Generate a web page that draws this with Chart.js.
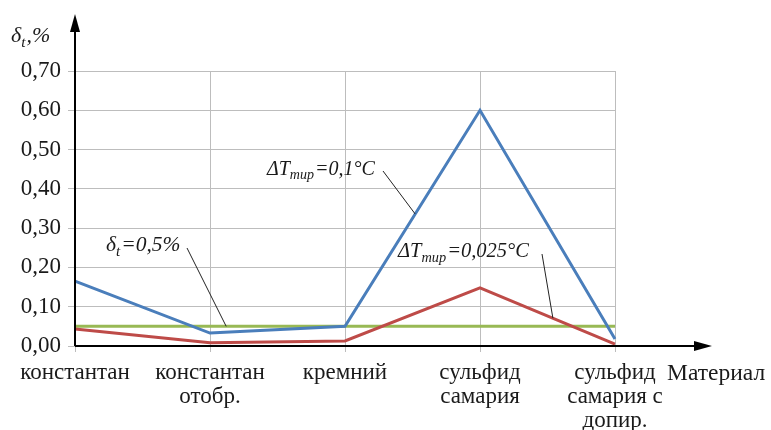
<!DOCTYPE html>
<html>
<head>
<meta charset="utf-8">
<script src="https://cdn.jsdelivr.net/npm/chart.js@4.4.0/dist/chart.umd.min.js"></script>
<style>
  body { margin: 0; background: #fff; }
  #wrap { width: 771px; height: 430px; position: relative; }
</style>
</head>
<body>
<div id="wrap"><canvas id="errChart"></canvas></div>
<script>
// материалы (подписи по оси X)
const materials = [
    ['константан'],
    ['константан', 'отобр.'],
    ['кремний'],
    ['сульфид', 'самария'],
    ['сульфид', 'самария с', 'допир.']
];
// погрешность, %, при ΔT = 0,1 °C
const errDT01 = [0.165, 0.033, 0.05, 0.60, 0.018];
// погрешность, %, при ΔT = 0,025 °C
const errDT0025 = [0.043, 0.008, 0.013, 0.148, 0.005];
// допустимый уровень δt = 0,5 %
const errLimit = [0.05, 0.05, 0.05, 0.05, 0.05];
const yMin = 0, yMax = 0.7, yStep = 0.1;

const SERIF = '"Liberation Serif", "Times New Roman", serif';
const INK = '#1a1a1a';

// text with subscripts: parts = [{t, sub}]
function drawRich(ctx, x, y, parts, size) {
    let cx = x;
    parts.forEach(p => {
        const s = p.sub ? size * 0.7 : size;
        ctx.font = 'italic ' + s + 'px ' + SERIF;
        ctx.fillText(p.t, cx, p.sub ? y + size * 0.22 : y);
        cx += ctx.measureText(p.t).width + (p.sub ? 1 : 0);
    });
}

function valueAt(series, idx) {
    const i = Math.floor(idx), f = idx - i;
    if (i >= series.length - 1) return series[series.length - 1];
    return series[i] + (series[i + 1] - series[i]) * f;
}

// подписи кривых с выносками
const notes = [
    { parts: [{t: 'ΔT'}, {t: 'тир', sub: true}, {t: '=0,1°C'}], size: 20, tx: 267, ty: 175, from: [383, 171], series: errDT01, at: 2.52 },
    { parts: [{t: 'δ'}, {t: 't', sub: true}, {t: '=0,5%'}], size: 21.5, tx: 106, ty: 251, from: [187, 248], series: errLimit, at: 1.12 },
    { parts: [{t: 'ΔT'}, {t: 'тир', sub: true}, {t: '=0,025°C'}], size: 20.5, tx: 398, ty: 257, from: [542, 254], series: errDT0025, at: 3.54 }
];

const decor = {
    id: 'decor',
    afterDatasetsDraw(chart) {
        const ctx = chart.ctx;
        const a = chart.chartArea;
        const xs = chart.scales.x, ys = chart.scales.y;
        ctx.save();
        // оси со стрелками
        ctx.strokeStyle = '#000';
        ctx.fillStyle = '#000';
        ctx.lineWidth = 2;
        ctx.beginPath();
        ctx.moveTo(a.left, a.bottom);
        ctx.lineTo(a.left, 28);
        ctx.moveTo(a.left, a.bottom);
        ctx.lineTo(698, a.bottom);
        ctx.stroke();
        ctx.beginPath();
        ctx.moveTo(a.left, 14);
        ctx.lineTo(a.left - 5, 32);
        ctx.lineTo(a.left + 5, 32);
        ctx.closePath();
        ctx.fill();
        ctx.beginPath();
        ctx.moveTo(712, a.bottom);
        ctx.lineTo(694, a.bottom - 5);
        ctx.lineTo(694, a.bottom + 5);
        ctx.closePath();
        ctx.fill();

        // выноски
        ctx.lineWidth = 1;
        ctx.strokeStyle = '#222';
        notes.forEach(n => {
            const ex = xs.getPixelForValue(n.at);
            const ey = ys.getPixelForValue(valueAt(n.series, n.at));
            ctx.beginPath();
            ctx.moveTo(n.from[0], n.from[1]);
            ctx.lineTo(ex, ey);
            ctx.stroke();
        });
        ctx.fillStyle = INK;
        ctx.textBaseline = 'alphabetic';
        ctx.textAlign = 'left';
        notes.forEach(n => drawRich(ctx, n.tx, n.ty, n.parts, n.size));

        // названия осей
        drawRich(ctx, 11, 42, [{t: 'δ'}, {t: 't', sub: true}, {t: ',%'}], 22);
        ctx.font = '23.5px ' + SERIF;
        ctx.fillText('Материал', 667, 380);
        ctx.restore();
    }
};

new Chart(document.getElementById('errChart'), {
    type: 'line',
    data: {
        labels: materials,
        datasets: [
            { label: 'ΔT=0,1°C', data: errDT01, borderColor: '#4a7ebb', borderWidth: 3 },
            { label: 'ΔT=0,025°C', data: errDT0025, borderColor: '#be4b48', borderWidth: 3 },
            { label: 'δt=0,5%', data: errLimit, borderColor: '#98b954', borderWidth: 3 }
        ]
    },
    options: {
        responsive: true,
        maintainAspectRatio: false,
        animation: false,
        layout: { padding: { top: 71, right: 156, left: 0, bottom: 0 } },
        elements: { point: { radius: 0 }, line: { tension: 0 } },
        plugins: { legend: { display: false }, tooltip: { enabled: false } },
        scales: {
            x: {
                offset: false,
                afterFit: s => { s.height = 84; },
                grid: { color: '#bdbdbd', lineWidth: 1, tickLength: 6 },
                border: { display: false },
                ticks: {
                    color: INK, padding: 9, maxRotation: 0, autoSkip: false,
                    font: { family: SERIF, size: 23, lineHeight: 1.05 }
                }
            },
            y: {
                min: yMin, max: yMax,
                afterFit: s => { s.width = 75; },
                grid: { color: '#bdbdbd', lineWidth: 1, tickLength: 7 },
                border: { display: false },
                ticks: {
                    stepSize: yStep, color: INK, padding: 7,
                    font: { family: SERIF, size: 23 },
                    callback: v => v.toFixed(2).replace('.', ',')
                }
            }
        }
    },
    plugins: [decor]
});
</script>
</body>
</html>
